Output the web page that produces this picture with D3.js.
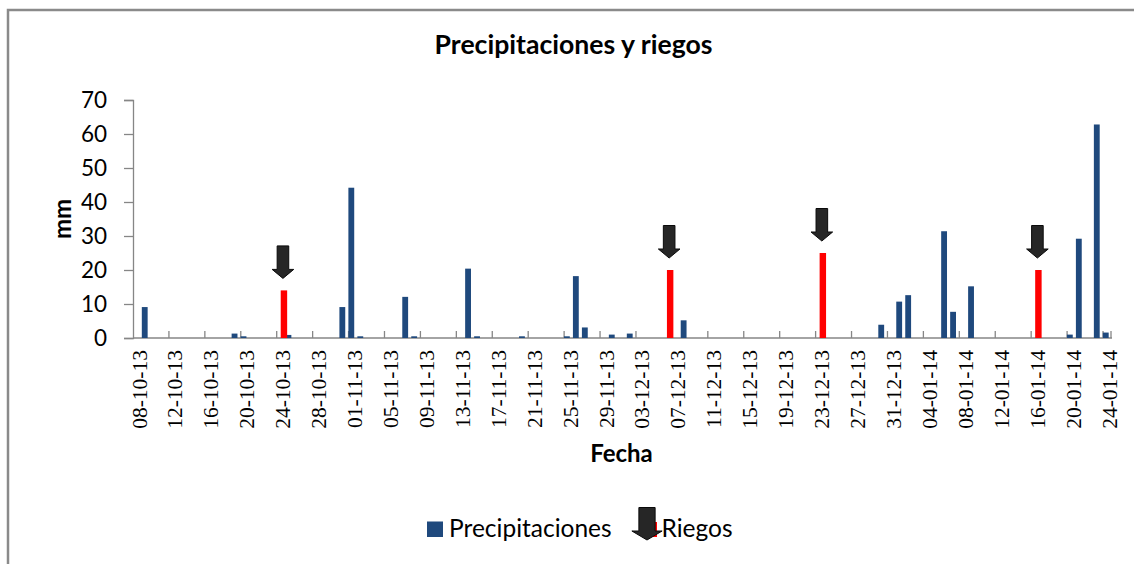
<!DOCTYPE html>
<html>
<head>
<meta charset="utf-8">
<script src="https://cdn.jsdelivr.net/npm/d3@7"></script>
<style>
  body { margin: 0; background: #ffffff; }
  svg { display: block; }
</style>
</head>
<body>
<svg id="chart" width="1134" height="564"></svg>
<script>
// Daily rainfall (mm)
const fechasPrecipitacion = [
  "09-10-13", "19-10-13", "20-10-13", "25-10-13", "31-10-13", "01-11-13", "02-11-13",
  "07-11-13", "08-11-13", "14-11-13", "15-11-13", "20-11-13", "25-11-13", "26-11-13",
  "27-11-13", "30-11-13", "02-12-13", "08-12-13", "30-12-13", "01-01-14", "02-01-14",
  "06-01-14", "07-01-14", "09-01-14", "20-01-14", "21-01-14", "23-01-14", "24-01-14"
];
const mmPrecipitacion = [
  9.1, 1.3, 0.5, 0.9, 9.1, 44.2, 0.5,
  12.1, 0.5, 20.4, 0.5, 0.5, 0.5, 18.2,
  3.1, 1.0, 1.3, 5.2, 3.9, 10.7, 12.6,
  31.4, 7.7, 15.2, 1.0, 29.2, 62.8, 1.6
];

// Irrigation events (mm)
const fechasRiego = ["24-10-13", "06-12-13", "23-12-13", "16-01-14"];
const mmRiego = [14, 20, 25, 20];

// Axis range and tick labels
const fechaInicio = "08-10-13";
const fechaFin = "24-01-14";
const etiquetasFecha = [
  "08-10-13", "12-10-13", "16-10-13", "20-10-13", "24-10-13", "28-10-13", "01-11-13",
  "05-11-13", "09-11-13", "13-11-13", "17-11-13", "21-11-13", "25-11-13", "29-11-13",
  "03-12-13", "07-12-13", "11-12-13", "15-12-13", "19-12-13", "23-12-13", "27-12-13",
  "31-12-13", "04-01-14", "08-01-14", "12-01-14", "16-01-14", "20-01-14", "24-01-14"
];
const marcasMm = [0, 10, 20, 30, 40, 50, 60, 70];
const series = ["Precipitaciones", "Riegos"];

const parse = d3.timeParse("%d-%m-%y");
const fmt = d3.timeFormat("%d-%m-%y");

const colorPrecip = "#1f497d";
const colorRiego = "#ff0000";
const colorEje = "#868686";
const sans = "Lato, 'Open Sans', sans-serif";
const serif = "'Liberation Serif', 'DejaVu Serif', serif";

const svg = d3.select("#chart");

// Outer frame of the chart object
svg.append("path")
  .attr("d", "M8,570 L8,10 L1140,10")
  .attr("fill", "none")
  .attr("stroke", "#8a8a8a")
  .attr("stroke-width", 2.5);

const dias = d3.timeDay.range(parse(fechaInicio), d3.timeDay.offset(parse(fechaFin), 1)).map(fmt);

const x = d3.scaleBand().domain(dias).range([133, 1112]).padding(0);
const xs = d3.scaleBand().domain(series).range([0, x.bandwidth()]).padding(0);
const y = d3.scaleLinear().domain([0, 70]).range([338, 100]);

// Y axis
const yAxis = svg.append("g")
  .attr("transform", "translate(133,0)")
  .call(d3.axisLeft(y).tickValues(marcasMm).tickSize(9).tickPadding(17).tickFormat(d3.format("d")));
yAxis.select(".domain").attr("stroke", colorEje).attr("stroke-width", 1.3);
yAxis.selectAll(".tick line").attr("stroke", colorEje).attr("stroke-width", 1.3);
yAxis.selectAll(".tick text")
  .attr("font-family", sans).attr("font-size", 22.5).attr("fill", "#000");

// X axis: ticks on day boundaries every 4 days, pointing up into the plot
const tickDias = dias.filter((d, i) => i % 4 === 0);
const xAxisG = svg.append("g");
xAxisG.append("line")
  .attr("x1", x.range()[0]).attr("x2", x.range()[1])
  .attr("y1", y(0)).attr("y2", y(0))
  .attr("stroke", colorEje).attr("stroke-width", 1.3);
xAxisG.selectAll("line.tk")
  .data(tickDias.slice(1).map(d => x(d)).concat([x.range()[1] - 1]))
  .join("line")
  .attr("class", "tk")
  .attr("x1", d => d).attr("x2", d => d)
  .attr("y1", y(0)).attr("y2", y(0) - 7)
  .attr("stroke", colorEje).attr("stroke-width", 1.3);

xAxisG.selectAll("text.lbl")
  .data(etiquetasFecha)
  .join("text")
  .attr("class", "lbl")
  .attr("transform", d => `translate(${x(d) + x.bandwidth() / 2 + 1.5},350) rotate(-90)`)
  .attr("text-anchor", "end")
  .attr("dy", "0.35em")
  .attr("font-family", serif)
  .attr("font-size", 21.5)
  .attr("fill", "#000")
  .text(d => d);

// Bars
const anchoBarra = xs.bandwidth() * 1.3;
svg.append("g").selectAll("rect")
  .data(fechasPrecipitacion.map((f, i) => ({ f, v: mmPrecipitacion[i] })))
  .join("rect")
  .attr("x", d => x(d.f) + xs("Precipitaciones") + xs.bandwidth() / 2 + 0.5 - anchoBarra / 2)
  .attr("y", d => y(d.v))
  .attr("width", anchoBarra)
  .attr("height", d => y(0) - y(d.v))
  .attr("fill", colorPrecip);

const riegos = fechasRiego.map((f, i) => ({ f, v: mmRiego[i] }));
svg.append("g").selectAll("rect")
  .data(riegos)
  .join("rect")
  .attr("x", d => x(d.f) + xs("Riegos") + xs.bandwidth() / 2 + 0.2 - anchoBarra / 2)
  .attr("y", d => y(d.v))
  .attr("width", anchoBarra + 0.6)
  .attr("height", d => y(0) - y(d.v))
  .attr("fill", colorRiego);

// Down arrow marker (sx, sy scale the shape)
function flecha(cx, tip, sx = 1, sy = 1) {
  const sw = 5.8 * sx, hw = 10.8 * sx, hh = 9 * sy, h = 32.5 * sy;
  return `M${cx - sw},${tip - h} L${cx + sw},${tip - h} L${cx + sw},${tip - hh} L${cx + hw},${tip - hh} ` +
         `L${cx},${tip} L${cx - hw},${tip - hh} L${cx - sw},${tip - hh} Z`;
}

svg.append("g").selectAll("path")
  .data(riegos)
  .join("path")
  .attr("d", d => flecha(x(d.f) + xs("Riegos") + xs.bandwidth() / 2 - 0.5, y(d.v) - 12))
  .attr("fill", "#262626")
  .attr("stroke", "#0a0a0a")
  .attr("stroke-width", 1);

// Title and axis titles
svg.append("text")
  .attr("x", 573.5).attr("y", 54)
  .attr("text-anchor", "middle")
  .attr("font-family", sans).attr("font-weight", "bold").attr("font-size", 26.6)
  .attr("fill", "#000")
  .text("Precipitaciones y riegos");

svg.append("text")
  .attr("x", 621.5).attr("y", 462)
  .attr("text-anchor", "middle")
  .attr("font-family", sans).attr("font-weight", "bold").attr("font-size", 24)
  .attr("fill", "#000")
  .text("Fecha");

svg.append("text")
  .attr("transform", "translate(71,219) rotate(-90)")
  .attr("text-anchor", "middle")
  .attr("font-family", sans).attr("font-weight", "bold").attr("font-size", 24)
  .attr("fill", "#000")
  .text("mm");

// Legend
const leg = svg.append("g");
leg.append("rect").attr("x", 427).attr("y", 521.5).attr("width", 16).attr("height", 15.5)
  .attr("fill", colorPrecip);
leg.append("text").attr("x", 449).attr("y", 537)
  .attr("font-family", sans).attr("font-size", 24.5).attr("fill", "#000")
  .text(series[0]);
leg.append("rect").attr("x", 642).attr("y", 522).attr("width", 15).attr("height", 15)
  .attr("fill", colorRiego);
leg.append("path")
  .attr("d", flecha(647, 540, 1.4, 1))
  .attr("fill", "#262626").attr("stroke", "#0a0a0a").attr("stroke-width", 1);
leg.append("text").attr("x", 661.5).attr("y", 537)
  .attr("font-family", sans).attr("font-size", 24.5).attr("fill", "#000")
  .text(series[1]);
</script>
</body>
</html>
